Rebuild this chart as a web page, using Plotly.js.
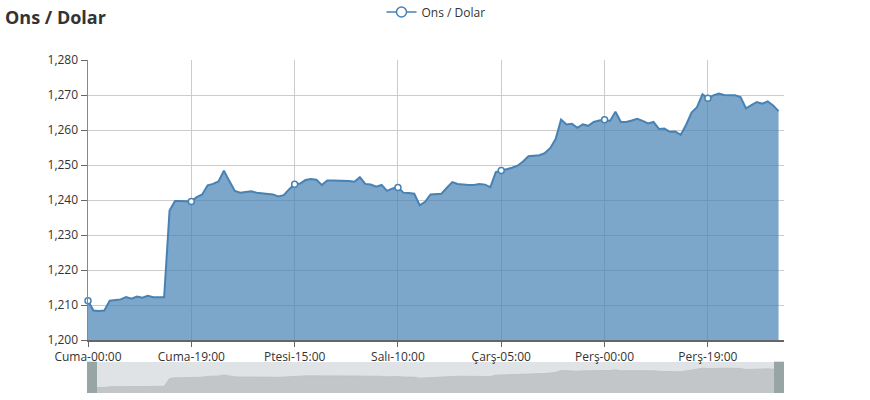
<!DOCTYPE html>
<html>
<head>
<meta charset="utf-8">
<script src="https://cdn.plot.ly/plotly-3.0.1.min.js"></script>
<style>
html,body{margin:0;padding:0;background:#fff;}
#chart{width:870px;height:400px;}
</style>
</head>
<body>
<div id="chart"></div>
<script>
// ---- data ----
const chartTitle = 'Ons / Dolar';
const seriesName = 'Ons / Dolar';
const tickLabels = ['Cuma-00:00', 'Cuma-19:00', 'Ptesi-15:00', 'Salı-10:00', 'Çarş-05:00', 'Perş-00:00', 'Perş-19:00'];
const tickStep = 19;       // hourly points between labelled ticks
const categoryCount = 129; // hourly slots on the x axis (last one has no price yet)
const prices = [
  1211.2, 1208.4, 1208.3, 1208.4, 1211.2, 1211.3, 1211.6, 1212.3, 1211.8, 1212.4,
  1212.1, 1212.6, 1212.2, 1212.2, 1212.2, 1237.0, 1239.7, 1239.7, 1239.7, 1239.6,
  1240.8, 1241.6, 1244.2, 1244.6, 1245.3, 1248.4, 1245.4, 1242.6, 1242.1, 1242.3,
  1242.5, 1242.1, 1241.9, 1241.8, 1241.6, 1241.0, 1241.4, 1243.1, 1244.5, 1244.7,
  1245.7, 1246.0, 1245.8, 1244.3, 1245.6, 1245.6, 1245.6, 1245.5, 1245.4, 1245.2,
  1246.5, 1244.6, 1244.4, 1243.8, 1244.3, 1242.6, 1243.3, 1243.6, 1242.1, 1242.0,
  1241.8, 1238.5, 1239.5, 1241.6, 1241.7, 1241.8, 1243.5, 1245.1, 1244.6, 1244.4,
  1244.3, 1244.3, 1244.6, 1244.4, 1243.7, 1248.0, 1248.4, 1248.7, 1249.2, 1249.8,
  1251.0, 1252.5, 1252.7, 1252.8, 1253.4, 1254.8, 1257.4, 1263.0, 1261.6, 1261.8,
  1260.6, 1261.6, 1261.2, 1262.3, 1262.7, 1262.9, 1262.6, 1265.2, 1262.3, 1262.3,
  1262.7, 1263.2, 1262.6, 1261.9, 1262.3, 1260.3, 1260.4, 1259.5, 1259.6, 1258.6,
  1261.5, 1265.0, 1266.5, 1270.2, 1269.1, 1269.9, 1270.4, 1270.0, 1269.9, 1269.9,
  1269.4, 1266.2, 1267.1, 1268.0, 1267.5, 1268.2, 1267.0, 1265.4
];
const yMin = 1200, yMax = 1280, yStep = 10;

// ---- derived ----
const idx = prices.map((_, i) => i);
const tickVals = tickLabels.map((_, k) => k * tickStep);
const markX = idx.filter(i => i % tickStep === 0);
const markY = markX.map(i => prices[i]);
const legendY = markX.map(() => null);

const lineColor = '#4682b4';
const W = 870, H = 400;
const mL = 88, mR = 86, mT = 60, mB = 7;
const plotW = W - mL - mR;
const plotH = H - mT - mB;
const mainBottomPx = 340;
const sliderTopPx = 362;
const legendCenterPx = 12;

const traces = [
  {
    x: idx, y: prices, type: 'scatter', mode: 'lines',
    line: {color: lineColor, width: 2},
    fill: 'tozeroy', fillcolor: 'rgba(70,130,180,0.7)',
    showlegend: false, hoverinfo: 'skip'
  },
  {
    x: markX, y: markY, type: 'scatter', mode: 'markers',
    marker: {symbol: 'circle', size: 6, color: '#fff', line: {color: lineColor, width: 1.5}},
    cliponaxis: false, showlegend: false, hoverinfo: 'skip'
  },
  {
    x: markX, y: legendY, type: 'scatter', mode: 'lines+markers', name: seriesName,
    line: {color: lineColor, width: 1.5},
    marker: {symbol: 'circle', size: 10, color: '#fff', line: {color: lineColor, width: 1.5}},
    connectgaps: false, showlegend: true, hoverinfo: 'skip'
  },
  {
    x: idx, y: prices, type: 'scatter', mode: 'lines', xaxis: 'x2', yaxis: 'y2',
    line: {color: '#bcc0c2', width: 0.8},
    fill: 'tozeroy', fillcolor: '#c3c6c8',
    showlegend: false, hoverinfo: 'skip'
  }
];

const layout = {
  width: W, height: H,
  margin: {l: mL, r: mR, t: mT, b: mB, pad: 0, autoexpand: false},
  paper_bgcolor: '#fff', plot_bgcolor: 'rgba(0,0,0,0)',
  font: {family: '"Open Sans", "Noto Sans", sans-serif', size: 12, color: '#333'},
  title: {
    text: chartTitle, xref: 'container', yref: 'container',
    x: 5 / W, xanchor: 'left', y: 1 - 18 / H, yanchor: 'middle',
    font: {size: 18, color: '#333', weight: 700}
  },
  showlegend: true,
  legend: {
    orientation: 'h', x: 0.5, xanchor: 'center',
    y: 1 + (mT - legendCenterPx) / plotH, yanchor: 'middle',
    itemwidth: 30, font: {size: 12, color: '#333'}, bgcolor: 'rgba(0,0,0,0)'
  },
  xaxis: {
    anchor: 'y', domain: [0, 1], range: [0, categoryCount - 1],
    tickmode: 'array', tickvals: tickVals, ticktext: tickLabels,
    showgrid: true, gridcolor: '#cccccc', gridwidth: 1, zeroline: false,
    showline: true, linecolor: '#666', linewidth: 1.5,
    ticks: 'outside', ticklen: 5, tickcolor: '#666', tickwidth: 1,
    tickfont: {size: 12, color: '#333'}, fixedrange: true
  },
  yaxis: {
    anchor: 'x', domain: [(H - mB - mainBottomPx) / plotH, 1],
    range: [yMin, yMax], dtick: yStep, tick0: yMin, tickformat: ',d',
    showgrid: true, gridcolor: '#cccccc', gridwidth: 1, zeroline: false,
    showline: true, linecolor: '#888', linewidth: 1.5,
    ticks: 'outside', ticklen: 6, tickcolor: '#666', tickwidth: 1,
    tickfont: {size: 12, color: '#333'}, fixedrange: true
  },
  xaxis2: {anchor: 'y2', domain: [0, 1], range: [0, categoryCount - 1], visible: false, fixedrange: true},
  yaxis2: {anchor: 'x2', domain: [0, (H - mB - sliderTopPx) / plotH], range: [1191, 1290], visible: false, fixedrange: true},
  shapes: [
    {type: 'rect', xref: 'x2 domain', yref: 'y2 domain', x0: 0, x1: 1, y0: 0, y1: 1,
     fillcolor: '#dfe3e6', line: {width: 0}, layer: 'below'},
    {type: 'rect', xref: 'x2 domain', yref: 'y2 domain', x0: -1 / plotW, x1: 9 / plotW, y0: 0, y1: 1.01,
     fillcolor: '#97a5a5', line: {width: 0}, layer: 'above'},
    {type: 'rect', xref: 'x2 domain', yref: 'y2 domain', x0: 1 - 10 / plotW, x1: 1, y0: 0, y1: 1.01,
     fillcolor: '#97a5a5', line: {width: 0}, layer: 'above'}
  ]
};

Plotly.newPlot('chart', traces, layout, {displayModeBar: false, staticPlot: true});
</script>
</body>
</html>
